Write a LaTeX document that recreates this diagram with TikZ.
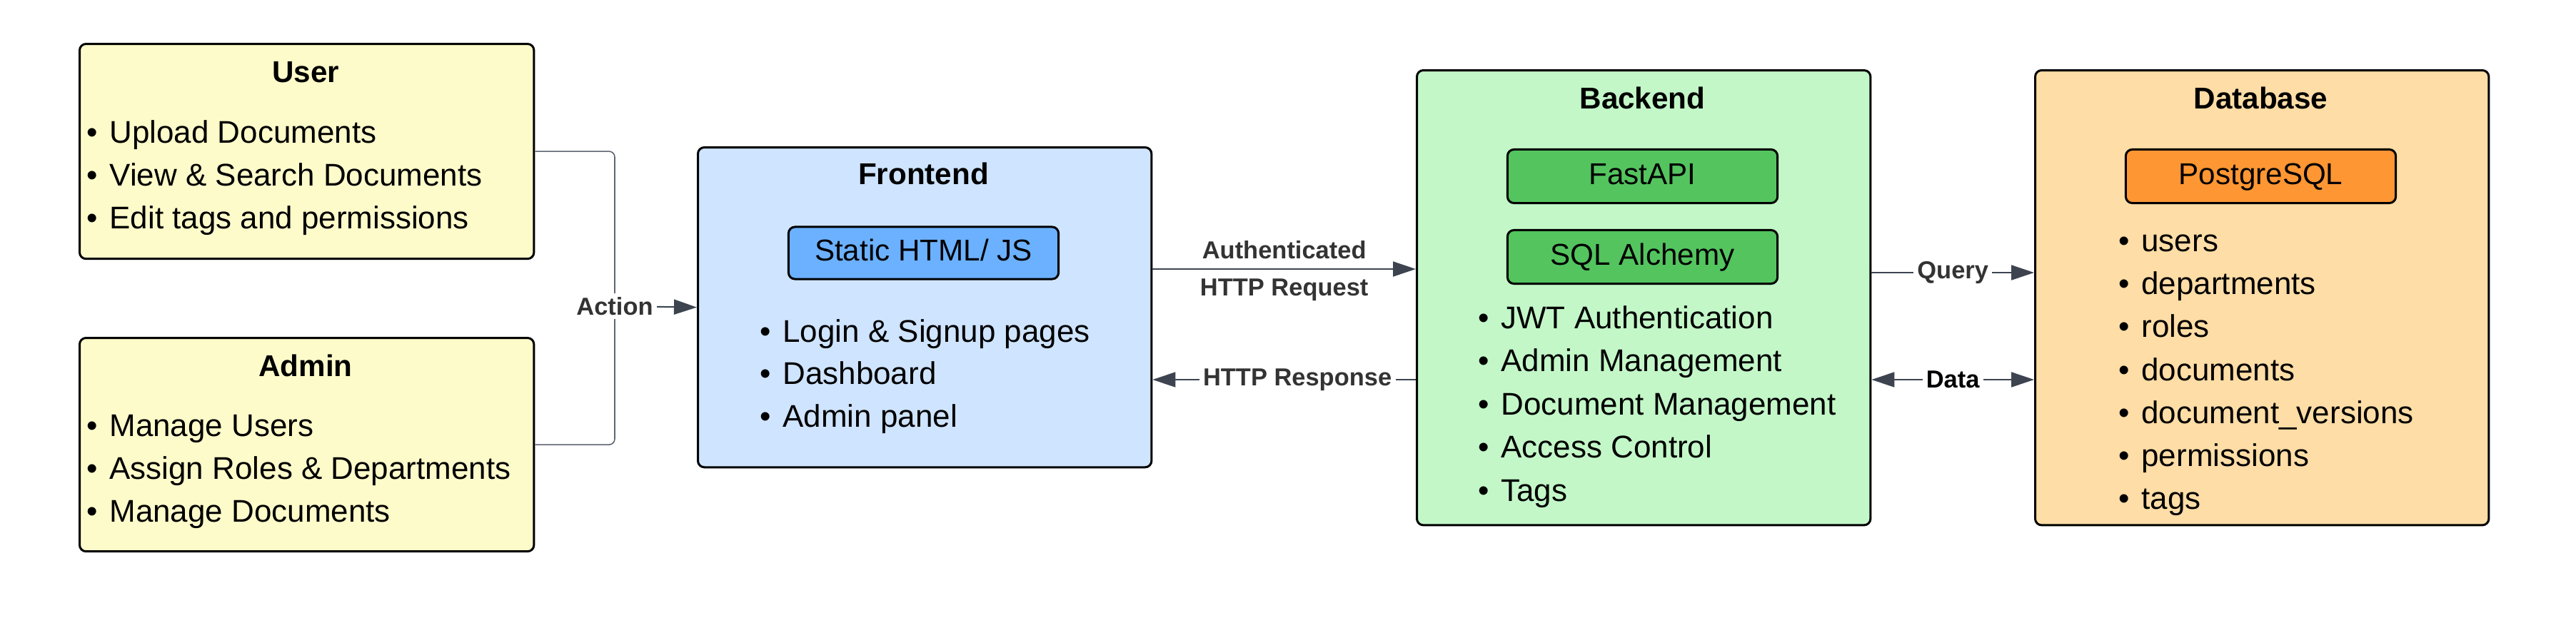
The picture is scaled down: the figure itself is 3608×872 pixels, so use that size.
\documentclass[tikz,border=0pt]{standalone}
\usepackage{fontspec}
\setmainfont{Liberation Sans}
\usetikzlibrary{arrows.meta}
\definecolor{userfill}{HTML}{FEFBCA}
\definecolor{frontfill}{HTML}{CFE4FF}
\definecolor{staticfill}{HTML}{6CB1FF}
\definecolor{backfill}{HTML}{C3F7C8}
\definecolor{fastfill}{HTML}{54C45F}
\definecolor{dbfill}{HTML}{FFDDA6}
\definecolor{pgfill}{HTML}{FE9633}
\definecolor{conngray}{HTML}{3D4450}
\definecolor{actgray}{HTML}{5E6673}
\definecolor{labelgray}{HTML}{333333}
\newcommand{\bul}{•\kern1.2pt\ }
\tikzset{
  box/.style={draw=black, line width=0.03cm, rounded corners=0.09cm, anchor=north west, inner sep=0pt},
  inbox/.style={draw=black, line width=0.03cm, rounded corners=0.09cm, minimum width=3.78cm, minimum height=0.75cm,
    inner sep=0pt, font=\fontsize{12}{14}\selectfont, text height=9pt, text depth=2.5pt},
  boxtitle/.style={font=\fontsize{12}{14}\selectfont\bfseries, anchor=base, inner sep=0pt},
  item/.style={font=\fontsize{12.5}{15}\selectfont, anchor=base west, inner sep=0pt},
  lbl/.style={font=\fontsize{9.8}{12}\selectfont\bfseries, text=labelgray, fill=white, inner sep=1.5pt},
  conn/.style={draw=conngray, line width=0.02cm},
  actconn/.style={draw=actgray, line width=0.016cm, rounded corners=0.08cm},
  tip/.style={-{Triangle[length=0.32cm,width=0.21cm]}},
  tips/.style={{Triangle[length=0.32cm,width=0.21cm]}-{Triangle[length=0.32cm,width=0.21cm]}}
}
\begin{document}
\begin{tikzpicture}[x=0.01cm, y={(0,-0.01cm)}]
\useasboundingbox (0,0) rectangle (3608,872);

% User
\node[box, fill=userfill, minimum width=6.36cm, minimum height=3.01cm] (user) at (110,60) {};
\node[boxtitle] (usert) at (428,115) {User};
\node[item] (u1) at (121,200) {\bul Upload Documents};
\node[item] (u2) at (121,260) {\bul View \& Search Documents};
\node[item] (u3) at (121,320) {\bul Edit tags and permissions};

% Admin
\node[box, fill=userfill, minimum width=6.36cm, minimum height=2.99cm] (admin) at (110,472) {};
\node[boxtitle] (admint) at (428,527) {Admin};
\node[item] (a1) at (121,611) {\bul Manage Users};
\node[item] (a2) at (121,671) {\bul Assign Roles \& Departments};
\node[item] (a3) at (121,731) {\bul Manage Documents};

% Frontend
\node[box, fill=frontfill, minimum width=6.35cm, minimum height=4.48cm] (frontend) at (976,205) {};
\node[boxtitle] (frontt) at (1293.5,258) {Frontend};
\node[inbox, fill=staticfill, minimum height=0.73cm] (static) at (1293.5,354.5) {Static HTML/ JS};
\node[item] (f1) at (1064,479) {\bul Login \& Signup pages};
\node[item] (f2) at (1064,538) {\bul Dashboard};
\node[item] (f3) at (1064,598) {\bul Admin panel};

% Backend
\node[box, fill=backfill, minimum width=6.35cm, minimum height=6.37cm] (backend) at (1983,97) {};
\node[boxtitle] (backt) at (2300.5,152) {Backend};
\node[inbox, fill=fastfill] (fastapi) at (2300.5,247) {FastAPI};
\node[inbox, fill=fastfill] (sqla) at (2300.5,360) {SQL Alchemy};
\node[item] (b1) at (2070,460) {\bul JWT Authentication};
\node[item] (b2) at (2070,520.5) {\bul Admin Management};
\node[item] (b3) at (2070,581) {\bul Document Management};
\node[item] (b4) at (2070,641.5) {\bul Access Control};
\node[item] (b5) at (2070,702) {\bul Tags};

% Database
\node[box, fill=dbfill, minimum width=6.35cm, minimum height=6.37cm] (database) at (2849,97) {};
\node[boxtitle] (dbt) at (3166.5,152) {Database};
\node[inbox, fill=pgfill] (pg) at (3166.5,247) {PostgreSQL};
\node[item] (d1) at (2967,352) {\bul users};
\node[item] (d2) at (2967,412) {\bul departments};
\node[item] (d3) at (2967,472) {\bul roles};
\node[item] (d4) at (2967,533) {\bul documents};
\node[item] (d5) at (2967,593) {\bul document\_versions};
\node[item] (d6) at (2967,653) {\bul permissions};
\node[item] (d7) at (2967,713) {\bul tags};

% Action connector
\coordinate (j) at (861,429);
\draw[actconn] (user.east) -| (j);
\draw[actconn] (admin.east) -| (j);
\draw[conn, tip] (j) -- (frontend.west);
\node[lbl] (actlbl) at (j) {Action};

% Frontend <-> Backend
\draw[conn, tip] (frontend.east |- 0,377) -- (backend.west |- 0,377)
  node[pos=0.5, yshift=0.27cm, lbl, fill=none] {Authenticated}
  node[pos=0.5, yshift=-0.29cm, lbl, fill=none] {HTTP Request};
\draw[conn, tip] (backend.west |- 0,532) -- (frontend.east |- 0,532)
  node[pos=0.45, lbl] {HTTP Response};

% Backend <-> Database
\draw[conn, tip] (backend.east |- 0,382) -- (database.west |- 0,382)
  node[pos=0.5, lbl] {Query};
\draw[conn, tips] (backend.east |- 0,532) -- (database.west |- 0,532)
  node[pos=0.5, lbl, text=black] {Data};
\end{tikzpicture}
\end{document}
